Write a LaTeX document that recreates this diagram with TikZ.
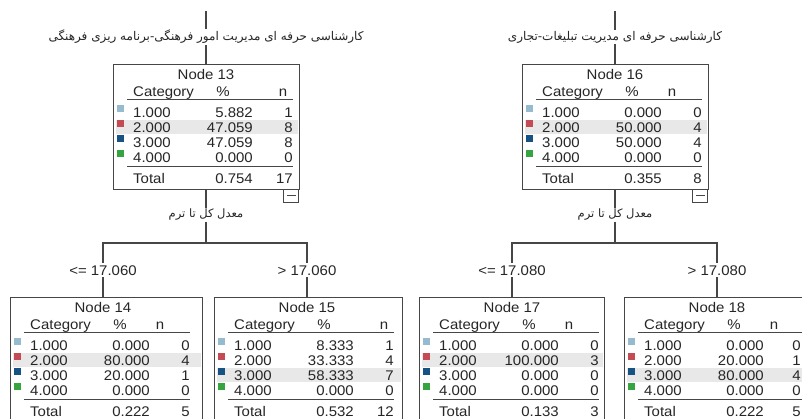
\documentclass[tikz,border=0pt]{standalone}
\usepackage{fontspec}
\setmainfont{Liberation Sans}
\newfontfamily\tabfont[FakeStretch=1.07]{Liberation Sans}
\newfontfamily\fa[Script=Arabic]{DejaVu Sans}
\TeXXeTstate=1
\definecolor{catA}{RGB}{150,186,206}
\definecolor{catB}{RGB}{196,74,84}
\definecolor{catC}{RGB}{22,82,132}
\definecolor{catD}{RGB}{54,164,64}
\definecolor{hlgray}{RGB}{232,232,232}
\definecolor{edgegray}{RGB}{70,70,70}
\tikzset{
  treeline/.style={draw=edgegray, line width=1.3pt},
  boxstyle/.style={draw=edgegray, line width=0.9pt, anchor=north west, inner sep=0pt, outer sep=0pt},
  rulestyle/.style={draw=edgegray, line width=0.9pt},
  tt/.style={font=\tabfont\fontsize{14}{16}\selectfont, inner sep=0pt, text=black!85},
  cond/.style={font=\tabfont\fontsize{14}{16}\selectfont, inner sep=2pt, text=black!85},
  fatext/.style={font=\fa\fontsize{12}{14}\selectfont, inner sep=1pt, text=black!85},
  fasplit/.style={font=\fa\fontsize{11.5}{14}\selectfont, inner sep=1pt, text=black!85},
  minusbox/.style={draw=edgegray, line width=0.9pt, fill=white, anchor=north east, minimum width=15pt, minimum height=13pt, inner sep=0pt},
}
\def\ncol{180}
% one category row: baseline y, colour, label, percent, n
\newcommand\catrow[5]{%
  \fill[#2] (4,#1-12) rectangle ++(6.5,6.5);
  \node[tt,anchor=base west] at (20,#1) {#3};
  \node[tt,anchor=base east] at (140,#1) {#4};
  \node[tt,anchor=base east] at (\ncol,#1) {#5};
}
% highlighted band behind a row: baseline y, width
\newcommand\hlband[2]{\fill[hlgray] (3,#1-12) rectangle (#2-1,#1+2);}
% the frame of a node: name, number, width, x of n header, total percent, total n
\newcommand\spssframe[6]{%
  \node[boxstyle, minimum width=#3, minimum height=125] (#1) at (0,0) {};
  \node[tt,anchor=base] at (93,15) {Node #2};
  \node[tt,anchor=base west] at (20,32) {Category};
  \node[tt,anchor=base] at (110,32) {\%};
  \node[tt,anchor=base] at (#4,32) {n};
  \draw[rulestyle] (14,35) -- (180,35);
  \draw[rulestyle] (14,102) -- (180,102);
  \node[tt,anchor=base west] at (20,119) {Total};
  \node[tt,anchor=base east] at (140,119) {#5};
  \node[tt,anchor=base east] at (\ncol,119) {#6};
}
\begin{document}
\begin{tikzpicture}[x=1pt,y=-1pt]
\useasboundingbox (0,0) rectangle (802,418);
\clip (0,0) rectangle (802,418);
\fill[white] (0,0) rectangle (802,418);

% ---------------- Node 13 ----------------
\begin{scope}[shift={(113,64)}]
  \hlband{68}{186}
  \spssframe{n13}{13}{186}{170}{0.754}{17}
  \catrow{53}{catA}{1.000}{5.882}{1}
  \catrow{68}{catB}{2.000}{47.059}{8}
  \catrow{83}{catC}{3.000}{47.059}{8}
  \catrow{98}{catD}{4.000}{0.000}{0}
\end{scope}
\node[minusbox] (m13) at (n13.south east) {};
\draw[rulestyle] ([xshift=-12pt,yshift=-6.5pt]m13.north east) -- ([xshift=-3pt,yshift=-6.5pt]m13.north east);

% ---------------- Node 16 ----------------
\begin{scope}[shift={(522,64)}]
  \hlband{68}{186}
  \spssframe{n16}{16}{186}{150}{0.355}{8}
  \catrow{53}{catA}{1.000}{0.000}{0}
  \catrow{68}{catB}{2.000}{50.000}{4}
  \catrow{83}{catC}{3.000}{50.000}{4}
  \catrow{98}{catD}{4.000}{0.000}{0}
\end{scope}
\node[minusbox] (m16) at (n16.south east) {};
\draw[rulestyle] ([xshift=-12pt,yshift=-6.5pt]m16.north east) -- ([xshift=-3pt,yshift=-6.5pt]m16.north east);

% ---------------- Node 14 ----------------
\begin{scope}[shift={(10,297)}]
  \hlband{68}{192}
  \spssframe{n14}{14}{192}{150}{0.222}{5}
  \catrow{53}{catA}{1.000}{0.000}{0}
  \catrow{68}{catB}{2.000}{80.000}{4}
  \catrow{83}{catC}{3.000}{20.000}{1}
  \catrow{98}{catD}{4.000}{0.000}{0}
\end{scope}

% ---------------- Node 15 ----------------
\begin{scope}[shift={(214,297)}]
  \hlband{83}{188}
  \spssframe{n15}{15}{188}{170}{0.532}{12}
  \catrow{53}{catA}{1.000}{8.333}{1}
  \catrow{68}{catB}{2.000}{33.333}{4}
  \catrow{83}{catC}{3.000}{58.333}{7}
  \catrow{98}{catD}{4.000}{0.000}{0}
\end{scope}

% ---------------- Node 17 ----------------
\begin{scope}[shift={(419,297)}]
  \hlband{68}{185}
  \spssframe{n17}{17}{185}{150}{0.133}{3}
  \catrow{53}{catA}{1.000}{0.000}{0}
  \catrow{68}{catB}{2.000}{100.000}{3}
  \catrow{83}{catC}{3.000}{0.000}{0}
  \catrow{98}{catD}{4.000}{0.000}{0}
\end{scope}

% ---------------- Node 18 ----------------
\begin{scope}[shift={(624,297)}]
  \def\ncol{177}
  \hlband{83}{186}
  \spssframe{n18}{18}{186}{150}{0.222}{5}
  \catrow{53}{catA}{1.000}{0.000}{0}
  \catrow{68}{catB}{2.000}{20.000}{1}
  \catrow{83}{catC}{3.000}{80.000}{4}
  \catrow{98}{catD}{4.000}{0.000}{0}
\end{scope}

% ---------------- left tree ----------------
\coordinate (t1) at (206,11);
\node[fatext] (f1) at (206,37) {\beginR کارشناسی حرفه ای مدیریت امور فرهنگی-برنامه ریزی فرهنگی\endR};
\draw[treeline] (t1) -- (f1.north);
\draw[treeline] (f1.south) -- (f1.south |- n13.north);
\node[fasplit] (s1) at (206,215) {\beginR معدل کل تا ترم\endR};
\draw[treeline] (s1.north |- n13.south) -- (s1.north);
\coordinate (j1) at (206,243);
\draw[treeline] (s1.south) -- (j1);
\node[cond,anchor=base] (c14) at (103,275) {<= 17.060};
\node[cond,anchor=base] (c15) at (307,275) {> 17.060};
\draw[treeline] (c14.north) -- (c14.north |- j1) -- (c15.north |- j1) -- (c15.north);
\draw[treeline] (c14.south) -- (c14.south |- n14.north);
\draw[treeline] (c15.south) -- (c15.south |- n15.north);

% ---------------- right tree ----------------
\coordinate (t2) at (615,11);
\node[fatext] (f2) at (615,37) {\beginR کارشناسی حرفه ای مدیریت تبلیغات-تجاری\endR};
\draw[treeline] (t2) -- (f2.north);
\draw[treeline] (f2.south) -- (f2.south |- n16.north);
\node[fasplit] (s2) at (615,215) {\beginR معدل کل تا ترم\endR};
\draw[treeline] (s2.north |- n16.south) -- (s2.north);
\coordinate (j2) at (615,243);
\draw[treeline] (s2.south) -- (j2);
\node[cond,anchor=base] (c17) at (512,275) {<= 17.080};
\node[cond,anchor=base] (c18) at (717,275) {> 17.080};
\draw[treeline] (c17.north) -- (c17.north |- j2) -- (c18.north |- j2) -- (c18.north);
\draw[treeline] (c17.south) -- (c17.south |- n17.north);
\draw[treeline] (c18.south) -- (c18.south |- n18.north);
\end{tikzpicture}
\end{document}
